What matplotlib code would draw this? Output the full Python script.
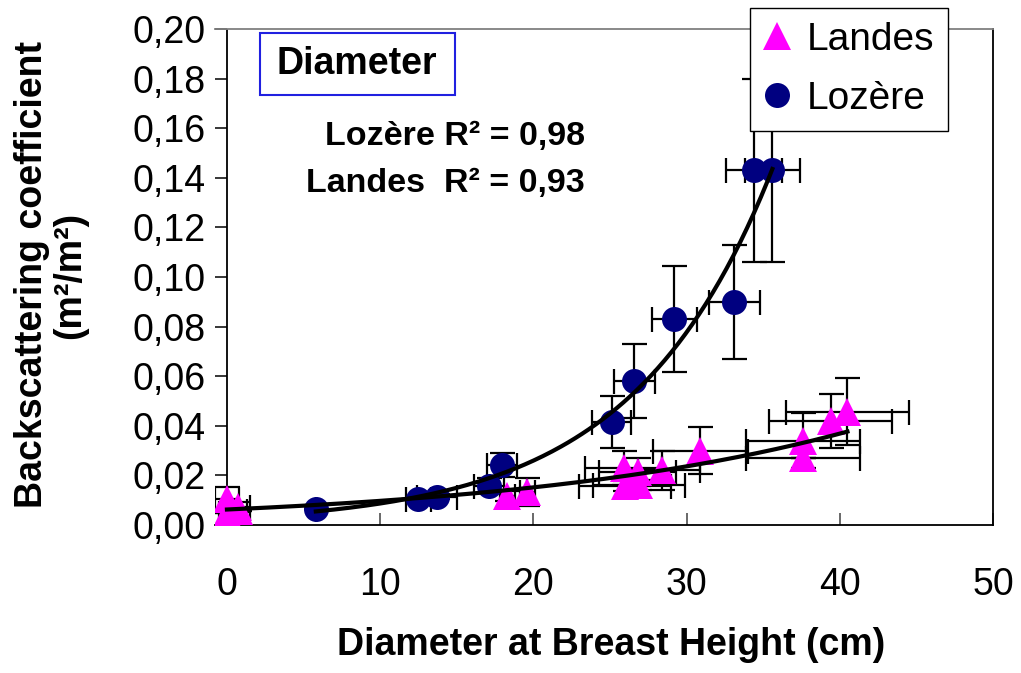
import numpy as np
import matplotlib
matplotlib.use("Agg")
import matplotlib.pyplot as plt
from matplotlib.patches import Rectangle
from matplotlib.lines import Line2D

plt.rcParams['font.family'] = ['Liberation Sans', 'DejaVu Sans']

# Landes (triangles)
landes_d = [0.0, 0.7, 0.0, 0.8, 18.3, 19.6, 25.9, 26.8, 26.0, 26.9, 28.4, 30.9, 37.6, 37.6, 39.4, 40.5]
landes_s = [0.0105, 0.0073, 0.0048, 0.0055, 0.0117, 0.0133, 0.023, 0.0214, 0.0157, 0.0160,
            0.022, 0.030, 0.034, 0.027, 0.042, 0.0456]
landes_xerr = [0.8, 0.8, 0.5, 0.5, 0.5, 0.5, 2.5, 2.5, 3.0, 3.0, 2.5, 3.1, 3.75, 3.75, 4.0, 4.0]
landes_yerr = [0.0048, 0.002, 0.0, 0.0, 0.002, 0.0057, 0.007, 0.0055, 0.002, 0.002,
               0.008, 0.0095, 0.011, 0.0, 0.011, 0.0135]

# Lozere (circles)
lozere_d = [5.8, 12.5, 13.7, 17.1, 17.95, 25.1, 26.6, 29.2, 33.1, 34.4, 35.6]
lozere_s = [0.0065, 0.0105, 0.0113, 0.0158, 0.0242, 0.0415, 0.058, 0.083, 0.090, 0.143, 0.143]
lozere_xerr = [0.0, 0.8, 1.3, 1.0, 1.0, 1.3, 1.35, 1.45, 1.66, 1.8, 1.8]
lozere_yerr = [0.0, 0.001, 0.001, 0.003, 0.005, 0.0105, 0.015, 0.0215, 0.023, 0.037, 0.037]

yticks = [0.0, 0.02, 0.04, 0.06, 0.08, 0.10, 0.12, 0.14, 0.16, 0.18, 0.20]
xticks = [0, 10, 20, 30, 40, 50]

magenta = '#FF00FF'
navy = '#000080'


def exp_fit(x, y):
	''' exponential trendline, least squares on ln(y) like Excel '''
	b, lna = np.polyfit(np.asarray(x), np.log(np.asarray(y)), 1)
	xx = np.linspace(min(x), max(x), 200)
	return xx, np.exp(lna) * np.exp(b * xx)


fig = plt.figure(figsize=(10.21, 6.73), dpi=100)
ax = fig.add_axes([215/1021, 1 - 525/673, 778/1021, 496/673])

# error bars first
ax.errorbar(landes_d, landes_s, xerr=landes_xerr, yerr=landes_yerr, fmt='none',
	ecolor='black', elinewidth=1.6, capsize=9, capthick=1.6, zorder=2)
ax.errorbar(lozere_d, lozere_s, xerr=lozere_xerr, yerr=lozere_yerr, fmt='none',
	ecolor='black', elinewidth=1.6, capsize=9, capthick=1.6, zorder=2)

ax.plot(landes_d, landes_s, linestyle='none', marker='^', markersize=20,
	color=magenta, markeredgewidth=0, zorder=3)
ax.plot(lozere_d, lozere_s, linestyle='none', marker='o', markersize=18,
	color=navy, markeredgewidth=0, zorder=3)

# trend lines on top
xx, yy = exp_fit(lozere_d, lozere_s)
ax.plot(xx, yy, color='black', lw=3, zorder=4)
xx, yy = exp_fit(landes_d, landes_s)
ax.plot(xx, yy, color='black', lw=3, zorder=4)

ax.set_xlim(-0.78, 50)
ax.set_ylim(0, 0.20)

# frame: y axis drawn at x=0
ax.spines['left'].set_visible(False)
ax.spines['top'].set_color('#808080')
ax.spines['top'].set_linewidth(1.3)
ax.spines['right'].set_linewidth(1.3)
ax.spines['bottom'].set_linewidth(1.3)
ax.axvline(0, color='black', lw=1.3, zorder=1)

ax.set_yticks(yticks)
ax.set_yticklabels([('%.2f' % v).replace('.', ',') for v in yticks])
ax.set_xticks(xticks)
ax.set_xticklabels([str(v) for v in xticks])
ax.tick_params(axis='y', direction='in', length=8.6, width=1.1, pad=7, labelsize=27)
ax.tick_params(axis='x', direction='in', length=8.6, width=1.1, pad=30, labelsize=27,
	color='#404040')

ax.set_xlabel('Diameter at Breast Height (cm)', fontsize=27, fontweight='bold')
ax.xaxis.set_label_coords(0.509, -0.205)

fig.text(51/1021, 1 - 275/673, 'Backscattering coefficient\n(m²/m²)', rotation=90,
	ha='center', va='center', fontsize=27, fontweight='bold', linespacing=1.1,
	multialignment='center')

# Diameter box
box = Rectangle((260/1021, 1 - 95/673), 195/1021, 62/673, transform=fig.transFigure,
	fill=False, edgecolor='#2020E0', lw=1.5)
fig.add_artist(box)
fig.text(357/1021, 1 - 64/673, 'Diameter', ha='center', va='center',
	fontsize=27, fontweight='bold')

fig.text(585/1021, 1 - 136/673, 'Lozère R² = 0,98', ha='right', va='center',
	fontsize=24.5, fontweight='bold')
fig.text(585/1021, 1 - 184/673, 'Landes  R² = 0,93', ha='right', va='center',
	fontsize=24.5, fontweight='bold')

handles = [Line2D([], [], linestyle='none', marker='^', markersize=20, color=magenta,
		markeredgewidth=0),
	Line2D([], [], linestyle='none', marker='o', markersize=18, color=navy,
		markeredgewidth=0)]
leg = fig.legend(handles, ['Landes', 'Lozère'], loc='upper left',
	bbox_to_anchor=(750/1021, 1 - 8/673), bbox_transform=fig.transFigure,
	fontsize=28, frameon=True, fancybox=False, edgecolor='black', framealpha=1,
	borderpad=0.35, labelspacing=0.6, handlelength=0.7, handletextpad=0.4,
	borderaxespad=0)
leg.get_frame().set_linewidth(1.0)

plt.savefig('out.png', dpi=100)
